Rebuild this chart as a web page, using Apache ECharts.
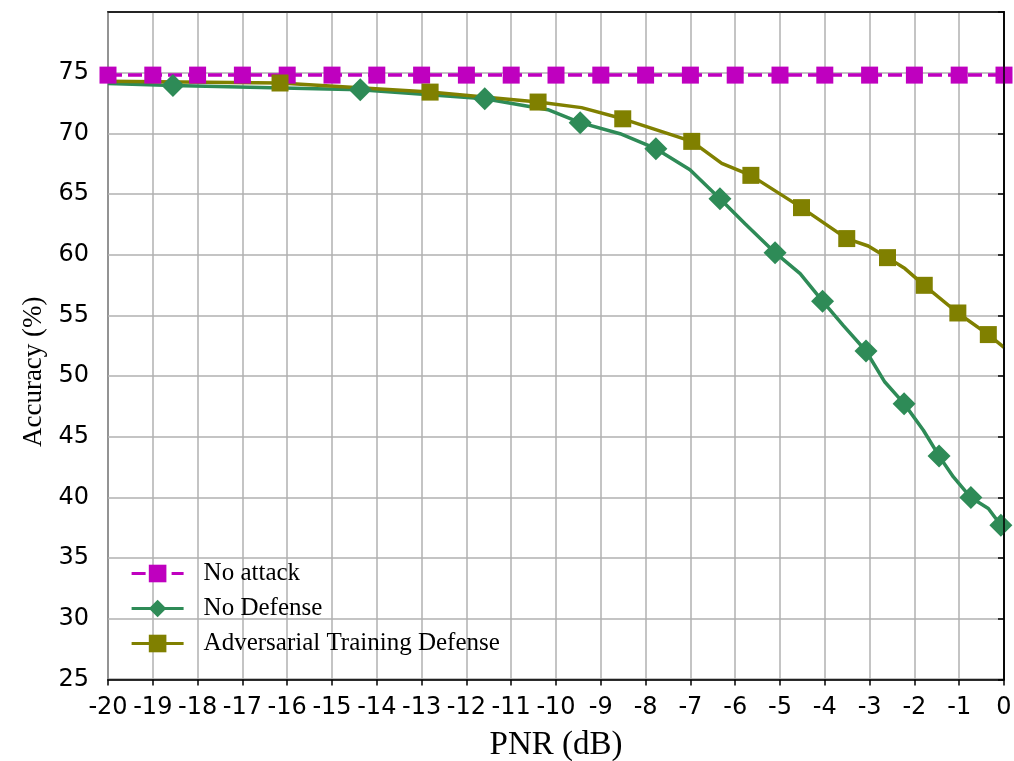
<!DOCTYPE html>
<html><head><meta charset="utf-8">
<script src="https://cdn.jsdelivr.net/npm/echarts@6/dist/echarts.min.js"></script>
<style>html,body{margin:0;padding:0;background:#fff}#c{width:1014px;height:761px}</style>
</head><body><div id="c"></div>
<script>
// ---- data ----
const noAttackX = [-20,-19,-18,-17,-16,-15,-14,-13,-12,-11,-10,-9,-8,-7,-6,-5,-4,-3,-2,-1,0];
const noAttackY = [74.8,74.8,74.8,74.8,74.8,74.8,74.8,74.8,74.8,74.8,74.8,74.8,74.8,74.8,74.8,74.8,74.8,74.8,74.8,74.8,74.8];

const noDefenseX = [-20,-18.55,-14.37,-11.59,-10.18,-9.46,-8.57,-7.77,-7.01,-6.34,-5.78,-5.11,-4.55,-4.05,-3.59,-3.08,-2.66,-2.23,-1.80,-1.45,-1.13,-0.74,-0.35,-0.07];
const noDefenseY = [74.10,73.95,73.60,72.86,71.95,70.88,69.97,68.74,67.00,64.62,62.56,60.17,58.44,56.17,54.18,52.07,49.51,47.73,45.54,43.42,41.69,39.99,39.09,37.71];
const noDefenseMarkers = [1,2,3,5,7,9,11,13,15,17,19,21,23];

const advTrainX = [-20,-16.16,-12.81,-10.40,-9.43,-8.51,-6.97,-6.30,-5.65,-4.52,-3.51,-3.03,-2.60,-2.21,-1.78,-1.03,-0.35,0];
const advTrainY = [74.30,74.15,73.40,72.58,72.12,71.20,69.34,67.53,66.54,63.88,61.33,60.72,59.76,58.86,57.48,55.20,53.42,52.37];
const advTrainMarkers = [1,2,3,5,6,8,9,10,12,14,15,16];

const xTickMin = -20, xTickMax = 0, xTickStep = 1;
const yTickMin = 25, yTickMax = 80, yTickStep = 5;
const yLabelHidden = [80];

// ---- build ----
function pts(xs, ys, marks) {
  return xs.map((x, i) => {
    const item = { value: [x, ys[i]] };
    if (marks && marks.indexOf(i) < 0) item.symbol = 'none';
    return item;
  });
}
const serif = '"Liberation Serif","Times New Roman",serif';
const sans = '"DejaVu Sans",sans-serif';
const frame = { show: true, lineStyle: { color: '#000', width: 1.5 } };

const chart = echarts.init(document.getElementById('c'), null, {renderer: 'canvas'});
chart.setOption({
  animation: false,
  backgroundColor: '#fff',
  grid: { left: 108, right: 10, top: 12, bottom: 81.5, outerBoundsMode: 'none', containLabel: false,
    show: true, borderColor: '#000', borderWidth: 1.5, backgroundColor: 'transparent' },
  legend: {
    orient: 'vertical', left: 130, top: 561, padding: 0, itemWidth: 52, itemHeight: 22, itemGap: 10,
    lineStyle: { width: 3.2 },
    textStyle: { fontFamily: serif, fontSize: 25, color: '#000', padding: [0, 0, 0, 15] },
    data: ['No attack', 'No Defense', 'Adversarial Training Defense']
  },
  xAxis: [{
    type: 'value', min: xTickMin, max: xTickMax, interval: xTickStep,
    name: 'PNR (dB)', nameLocation: 'middle', nameGap: 49,
    nameTextStyle: { fontFamily: serif, fontSize: 33, color: '#000' },
    axisLine: frame,
    axisTick: { show: true, inside: false, length: 6, lineStyle: { color: '#000', width: 1.5 } },
    axisLabel: { margin: 16, fontFamily: sans, fontSize: 24, color: '#000' },
    splitLine: { show: true, lineStyle: { color: '#b0b0b0', width: 1.5 } }
  }, {
    type: 'value', position: 'top', min: xTickMin, max: xTickMax, interval: xTickStep, z: 5,
    axisLine: frame, axisTick: { show: false }, axisLabel: { show: false }, splitLine: { show: false }
  }],
  yAxis: [{
    type: 'value', min: yTickMin, max: yTickMax, interval: yTickStep,
    name: 'Accuracy (%)', nameLocation: 'middle', nameGap: 58,
    nameTextStyle: { fontFamily: serif, fontSize: 27, color: '#000', padding: [0, 52, 0, 0] },
    axisLine: frame,
    axisTick: { show: true, inside: false, length: 6, lineStyle: { color: '#000', width: 1.5 } },
    axisLabel: { margin: 19, fontFamily: sans, fontSize: 24, color: '#000',
      formatter: v => yLabelHidden.indexOf(v) >= 0 ? '' : String(v) },
    splitLine: { show: true, lineStyle: { color: '#b0b0b0', width: 1.5 } }
  }, {
    type: 'value', position: 'right', min: yTickMin, max: yTickMax, interval: yTickStep, z: 5,
    axisLine: frame, axisTick: { show: false }, axisLabel: { show: false }, splitLine: { show: false }
  }],
  series: [
    { name: 'No attack', type: 'line', data: pts(noAttackX, noAttackY, null),
      symbol: 'rect', symbolSize: 17, showAllSymbol: true,
      itemStyle: { color: '#BF00BF' }, lineStyle: { color: '#BF00BF', width: 3.5, type: [14, 6] } },
    { name: 'No Defense', type: 'line', data: pts(noDefenseX, noDefenseY, noDefenseMarkers),
      symbol: 'diamond', symbolSize: 23, showAllSymbol: true,
      itemStyle: { color: '#2E8B57' }, lineStyle: { color: '#2E8B57', width: 3.5 } },
    { name: 'Adversarial Training Defense', type: 'line', data: pts(advTrainX, advTrainY, advTrainMarkers),
      symbol: 'rect', symbolSize: 17, showAllSymbol: true,
      itemStyle: { color: '#808000' }, lineStyle: { color: '#808000', width: 3.5 } }
  ]
});
</script></body></html>
